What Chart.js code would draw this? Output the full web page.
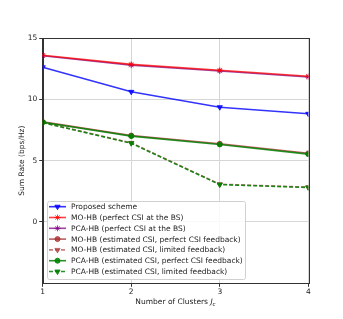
<!DOCTYPE html>
<html><head><meta charset="utf-8">
<script src="https://cdn.jsdelivr.net/npm/chart.js@4.4.0/dist/chart.umd.min.js"></script>
<style>html,body{margin:0;padding:0;background:#fff;}#wrap{width:343px;height:319px;}</style>
</head><body><div id="wrap"><canvas id="c" width="343" height="319"></canvas></div>
<script>
const clusters = [1, 2, 3, 4];
const yTicks = [0, 5, 10, 15];
const proposed = [12.62, 10.61, 9.36, 8.82];
const moPerfect = [13.6, 12.85, 12.37, 11.88];
const pcaPerfect = [13.55, 12.79, 12.31, 11.82];
const moEstPerfect = [8.16, 7.05, 6.38, 5.6];
const moEstLimited = [8.12, 6.45, 3.08, 2.84];
const pcaEstPerfect = [8.13, 7.0, 6.32, 5.53];
const pcaEstLimited = [8.1, 6.42, 3.05, 2.81];
const labels = ['Proposed scheme','MO-HB (perfect CSI at the BS)','PCA-HB (perfect CSI at the BS)','MO-HB (estimated CSI, perfect CSI feedback)','MO-HB (estimated CSI, limited feedback)','PCA-HB (estimated CSI, perfect CSI feedback)','PCA-HB (estimated CSI, limited feedback)'];

const FONT = 'DejaVu Sans';
const styles = [
  {c:'rgba(0,0,255,0.8)', p:'triangle', rot:180, dash:[], r:3, order:0},
  {c:'rgba(255,0,0,0.75)', p:'star', rot:0, dash:[], r:3, order:1},
  {c:'rgba(128,0,128,0.75)', p:'star', rot:0, dash:[], r:3, order:2},
  {c:'rgba(165,42,42,0.75)', p:'circle', rot:0, dash:[], r:2.5, order:4},
  {c:'rgba(165,42,42,0.6)', p:'triangle', rot:180, dash:[4,2], r:3, order:4},
  {c:'rgba(0,128,0,0.85)', p:'circle', rot:0, dash:[], r:2.5, order:3},
  {c:'rgba(0,128,0,0.85)', p:'triangle', rot:180, dash:[4,2], r:3, order:3}
];
const series = [proposed, moPerfect, pcaPerfect, moEstPerfect, moEstLimited, pcaEstPerfect, pcaEstLimited];
const datasets = series.map((d,i)=>({
  label: labels[i], data: d, borderColor: styles[i].c, backgroundColor: styles[i].c,
  borderWidth: 1.6, borderDash: styles[i].dash, pointStyle: styles[i].p, pointRotation: styles[i].rot,
  pointRadius: styles[i].r, pointBorderWidth: 1, tension: 0, order: styles[i].order
}));

const customDraw = {
  id: 'customDraw',
  afterDraw(chart) {
    const ctx = chart.ctx, a = chart.chartArea;
    ctx.save();
    ctx.strokeStyle = '#333'; ctx.lineWidth = 1; ctx.setLineDash([]);
    ctx.strokeRect(Math.round(a.left)+0.5, Math.round(a.top)+0.5, Math.round(a.right-a.left), Math.round(a.bottom-a.top));
    const lx = 47, ly = 201, lw = 198, lh = 78;
    ctx.fillStyle = 'rgba(255,255,255,0.85)';
    ctx.strokeStyle = '#d0d0d0';
    ctx.beginPath();
    if (ctx.roundRect) ctx.roundRect(lx+0.5, ly+0.5, lw, lh, 2); else ctx.rect(lx+0.5, ly+0.5, lw, lh);
    ctx.fill(); ctx.stroke();
    ctx.font = '7.5px "' + FONT + '"';
    ctx.textBaseline = 'middle'; ctx.textAlign = 'left';
    for (let i = 0; i < labels.length; i++) {
      const y = 206.7 + i * 10.8;
      const s = styles[i];
      ctx.strokeStyle = s.c; ctx.lineWidth = 1.6; ctx.setLineDash(s.dash);
      ctx.beginPath(); ctx.moveTo(49, y); ctx.lineTo(66, y); ctx.stroke();
      ctx.setLineDash([]);
      ctx.fillStyle = s.c; ctx.strokeStyle = s.c; ctx.lineWidth = 1;
      Chart.helpers.drawPoint(ctx, {pointStyle: s.p, rotation: s.rot, radius: s.r, borderWidth: 1}, 57.5, y);
      ctx.fillStyle = '#222';
      ctx.fillText(labels[i], 71, y + 0.5);
    }
    ctx.fillStyle = '#222';
    const t1 = 'Number of Clusters ';
    ctx.font = '7.5px "' + FONT + '"';
    const w1 = ctx.measureText(t1).width;
    ctx.font = 'italic 7.5px "' + FONT + '"';
    const w2 = ctx.measureText('J').width;
    ctx.font = 'italic 5.5px "' + FONT + '"';
    const w3 = ctx.measureText('c').width;
    const total = w1 + w2 + w3;
    let x0 = (a.left + a.right) / 2 - total / 2;
    const ty = 302;
    ctx.textAlign = 'left'; ctx.textBaseline = 'middle';
    ctx.font = '7.5px "' + FONT + '"'; ctx.fillText(t1, x0, ty);
    ctx.font = 'italic 7.5px "' + FONT + '"'; ctx.fillText('J', x0 + w1, ty);
    ctx.font = 'italic 5.5px "' + FONT + '"'; ctx.fillText('c', x0 + w1 + w2, ty + 2.5);
    ctx.restore();
  }
};

new Chart(document.getElementById('c'), {
  type: 'line',
  data: { labels: clusters, datasets },
  options: {
    responsive: false, animation: false, devicePixelRatio: 1,
    layout: { padding: { top: 38, right: 34.7, left: 0, bottom: 0 } },
    plugins: { legend: { display: false }, tooltip: { enabled: false } },
    scales: {
      x: {
        type: 'linear', min: 1, max: 4,
        afterFit(s) { s.height = 35.7; },
        afterBuildTicks(s) { s.ticks = clusters.map(v => ({ value: v })); },
        ticks: { color: '#222', font: { family: FONT, size: 7.5 }, padding: 1, maxRotation: 0 },
        grid: { color: '#d6d6d6', lineWidth: 1, tickLength: 3.5, tickColor: '#333' },
        border: { color: '#333' }
      },
      y: {
        min: -5, max: 15,
        afterFit(s) { s.width = 42.7; },
        afterBuildTicks(s) { s.ticks = [-5].concat(yTicks).map(v => ({ value: v })); },
        ticks: { color: '#222', font: { family: FONT, size: 7.5 }, padding: 2,
          callback: v => (v === -5 ? '' : String(v)) },
        grid: { color: '#d6d6d6', lineWidth: 1, tickLength: 3.5, tickColor: (c) => c.tick && c.tick.value === -5 ? 'rgba(0,0,0,0)' : '#333' },
        border: { color: '#333' },
        title: { display: true, text: 'Sum Rate (bps/Hz)', color: '#222', font: { family: FONT, size: 7.5 }, padding: { top: 17.5, bottom: 0 } }
      }
    }
  },
  plugins: [customDraw]
});
</script></body></html>
